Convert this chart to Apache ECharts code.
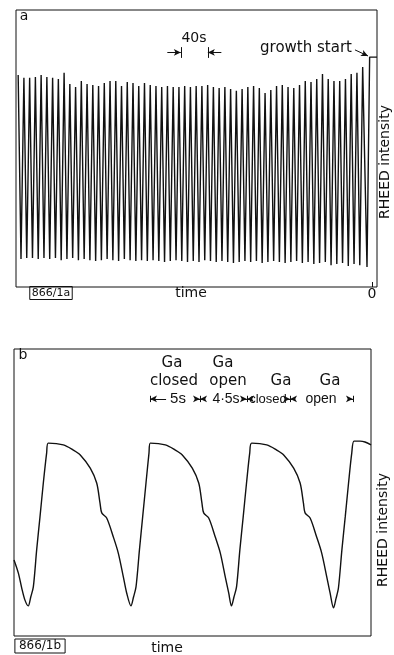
<!DOCTYPE html>
<html>
<head>
<meta charset="utf-8">
<script src="https://cdn.jsdelivr.net/npm/echarts@6/dist/echarts.min.js"></script>
<style>
  html, body { margin: 0; padding: 0; background: #fff; }
  #chart { width: 394px; height: 655px; }
</style>
</head>
<body>
<div id="chart"></div>
<script>
// panel a: RHEED intensity oscillations, time in s after growth start (axis runs right to left)
const preGrowthTimes = [-7.4, 3.5];
const preGrowthValues = [83.0, 83.0];

const peakTimes = [
  13.8, 22.3, 30.8, 39.3, 47.8, 56.3, 64.8, 73.3, 81.8, 90.3,
  98.8, 107.3, 115.8, 124.3, 132.8, 141.3, 149.8, 158.3, 166.8, 175.3,
  183.8, 192.3, 200.8, 209.3, 217.8, 226.3, 234.8, 243.3, 251.8, 260.3,
  268.8, 277.3, 285.8, 294.3, 302.8, 311.3, 319.8, 328.3, 336.8, 345.3,
  353.8, 362.3, 370.8, 379.3, 387.8, 396.3, 404.8, 413.3, 421.8, 430.3,
  438.8, 447.3, 455.8, 464.3, 472.8, 481.3, 489.8, 498.3, 506.8, 515.3,
  523.8
];
const peakValues = [
  79.4, 77.3, 76.9, 75.1, 74.4, 74.4, 75.1, 76.9, 75.1, 74.0,
  74.4, 72.9, 71.8, 72.2, 72.9, 72.6, 71.1, 70.0, 71.8, 72.6,
  72.2, 71.5, 70.8, 71.5, 72.2, 71.8, 72.2, 72.9, 72.6, 72.6,
  72.2, 72.6, 72.2, 72.2, 72.6, 72.2, 72.6, 72.9, 73.6, 72.6,
  73.6, 74.0, 72.6, 74.4, 74.4, 73.6, 72.6, 72.9, 73.3, 74.4,
  72.2, 73.3, 77.3, 75.1, 75.5, 75.8, 76.5, 75.8, 75.5, 75.5,
  76.5
];
const troughTimes = [
  7.4, 18.1, 26.6, 35.1, 43.6, 52.1, 60.6, 69.1, 77.6, 86.1,
  94.6, 103.1, 111.6, 120.1, 128.6, 137.1, 145.6, 154.1, 162.6, 171.1,
  179.6, 188.1, 196.6, 205.1, 213.6, 222.1, 230.6, 239.1, 247.6, 256.1,
  264.6, 273.1, 281.6, 290.1, 298.6, 307.1, 315.6, 324.1, 332.6, 341.1,
  349.6, 358.1, 366.6, 375.1, 383.6, 392.1, 400.6, 409.1, 417.6, 426.1,
  434.6, 443.1, 451.6, 460.1, 468.6, 477.1, 485.6, 494.1, 502.6, 511.1,
  519.6
];
const troughValues = [
  7.2, 7.9, 8.3, 7.6, 8.7, 8.3, 7.9, 9.0, 8.7, 8.3,
  9.0, 8.7, 9.4, 9.0, 8.7, 9.0, 9.4, 9.0, 8.7, 9.4,
  9.0, 9.4, 9.0, 8.7, 9.0, 9.4, 9.0, 9.4, 9.7, 9.0,
  9.4, 9.0, 9.4, 9.7, 9.4, 9.0, 9.4, 9.7, 9.4, 9.7,
  9.4, 9.7, 10.1, 9.4, 9.7, 10.1, 9.7, 9.4, 9.7, 10.1,
  9.7, 10.5, 10.1, 9.7, 10.5, 10.1, 10.5, 10.1, 10.5, 10.5,
  10.1
];
const scaleBarA = [243, 283];          // the "40s" marker
const growthArrow = [[25.2, 85.6], [5.9, 83.4]];

// panel b: one Ga shutter cycle is 5 s closed + 4.5 s open
const timesB = [
  0.00, 0.40, 0.72, 1.02, 1.33, 1.56, 1.80, 2.11, 2.42, 2.73, 3.04, 3.19,
  4.59, 5.52, 6.17, 7.10, 7.70, 8.01, 8.17, 8.63, 9.25, 9.71, 10.18, 10.49, 10.89,
  11.13, 11.36, 11.68, 11.98, 12.29, 12.57, 12.69,
  14.09, 15.02, 15.67, 16.60, 17.20, 17.50, 17.66, 18.13, 18.74, 19.21, 19.67, 19.99, 20.25,
  20.48, 20.72, 21.03, 21.34, 21.65, 21.95, 22.13,
  23.53, 24.46, 25.11, 26.04, 26.64, 26.95, 27.10, 27.57, 28.18, 28.65, 29.12, 29.43, 29.75,
  29.98, 30.21, 30.53, 30.84, 31.15, 31.45, 31.66,
  32.22, 32.68, 33.24
];
const valuesB = [
  26.5, 22.0, 16.7, 12.5, 10.5, 13.6, 17.1, 30.0, 41.5, 53.3, 63.8, 67.2,
  66.6, 64.8, 63.1, 58.5, 53.3, 46.3, 42.9, 41.1, 34.5, 28.9, 20.6, 15.0, 10.5,
  13.6, 17.1, 30.0, 41.5, 53.3, 63.8, 67.2,
  66.6, 64.8, 63.1, 58.5, 53.3, 46.3, 42.9, 41.1, 34.5, 28.9, 20.6, 15.0, 10.5,
  13.6, 17.1, 30.0, 41.5, 53.3, 63.8, 67.2,
  66.6, 64.8, 63.1, 58.5, 53.3, 46.3, 42.9, 41.1, 34.5, 28.9, 20.6, 15.0, 9.8,
  13.0, 16.8, 30.0, 41.5, 53.3, 63.8, 67.9,
  67.9, 67.6, 66.6
];
const shutterBounds = [12.66, 17.32, 21.69, 25.70, 31.56];
const shutterRowY = 82.6;

const ink = '#111';
const font = '"DejaVu Sans", sans-serif';
const narrowFont = '"Liberation Sans", sans-serif';

const traceA = [];
preGrowthTimes.forEach((t, i) => traceA.push([t, preGrowthValues[i]]));
peakTimes.forEach((t, i) => traceA.push([t, peakValues[i]]));
troughTimes.forEach((t, i) => traceA.push([t, troughValues[i]]));
traceA.sort((p, q) => p[0] - q[0]);

const traceB = timesB.map((t, i) => [t, valuesB[i]]);

const tick = (x, y0, y1) => [{ coord: [x, y0], symbol: 'none' }, { coord: [x, y1], symbol: 'none' }];
const arrow = (x0, x1, y) => [{ coord: [x0, y], symbol: 'none' }, { coord: [x1, y], symbol: 'arrow' }];

const marksA = [
  tick(scaleBarA[0], 82.7, 86.6),
  tick(scaleBarA[1], 82.7, 86.6),
  arrow(scaleBarA[1] + 20, scaleBarA[1], 84.7),
  arrow(scaleBarA[0] - 20, scaleBarA[0], 84.7),
  [{ coord: growthArrow[0], symbol: 'none' }, { coord: growthArrow[1], symbol: 'arrow' }]
];

const marksB = [];
shutterBounds.forEach((b, i) => {
  marksB.push(tick(b, shutterRowY - 1.1, shutterRowY + 1.1));
  if (i === 0) {
    marksB.push(arrow(b + 1.5, b, shutterRowY));
  } else if (i === shutterBounds.length - 1) {
    marksB.push(arrow(b - 0.45, b, shutterRowY));
  } else {
    marksB.push(arrow(b - 0.45, b, shutterRowY));
    marksB.push(arrow(b + 0.45, b, shutterRowY));
  }
});

const markStyle = {
  silent: true,
  animation: false,
  symbolSize: [5, 7],
  label: { show: false },
  lineStyle: { color: ink, width: 1, type: 'solid' },
  emphasis: { disabled: true }
};

const txt = (text, x, y, size, extra, family) => ({
  type: 'text', x: x, y: y,
  style: Object.assign({
    text: text, fill: ink, font: size + 'px ' + (family || font),
    align: 'center', verticalAlign: 'middle'
  }, extra || {})
});

const chart = echarts.init(document.getElementById('chart'), null, { renderer: 'canvas' });

chart.setOption({
  animation: false,
  backgroundColor: '#fff',
  grid: [
    { left: 16, top: 10, width: 361, height: 277, show: true, borderColor: ink, borderWidth: 1 },
    { left: 14, top: 349, width: 357, height: 287, show: true, borderColor: ink, borderWidth: 1 }
  ],
  xAxis: [
    {
      gridIndex: 0, type: 'value', min: -7.4, max: 527, inverse: true,
      axisLine: { show: false }, splitLine: { show: false },
      axisTick: { show: true, inside: true, length: 5, customValues: [0], lineStyle: { color: ink } },
      axisLabel: { show: true, customValues: [0], margin: 0, color: ink, fontSize: 14, fontFamily: font }
    },
    {
      gridIndex: 1, type: 'value', min: 0, max: 33.24,
      axisLine: { show: false }, splitLine: { show: false },
      axisTick: { show: false }, axisLabel: { show: false }
    }
  ],
  yAxis: [
    { gridIndex: 0, type: 'value', min: 0, max: 100, show: false },
    { gridIndex: 1, type: 'value', min: 0, max: 100, show: false }
  ],
  series: [
    {
      type: 'line', xAxisIndex: 0, yAxisIndex: 0, data: traceA,
      showSymbol: false, silent: true,
      lineStyle: { color: ink, width: 1.4 },
      markLine: Object.assign({ data: marksA }, markStyle)
    },
    {
      type: 'line', xAxisIndex: 1, yAxisIndex: 1, data: traceB,
      showSymbol: false, silent: true, smooth: 0.3,
      lineStyle: { color: ink, width: 1.4 },
      markLine: Object.assign({ data: marksB }, markStyle)
    }
  ],
  graphic: [
    txt('a', 24, 16, 14, { fontStyle: 'italic' }),
    txt('40s', 194, 38, 14),
    txt('growth start', 306, 48, 15),
    txt('866/1a', 51, 293, 11, { borderColor: ink, borderWidth: 1, padding: [1, 2] }),
    txt('time', 191, 293, 14),
    Object.assign(txt('RHEED intensity', 385, 162, 14), { rotation: Math.PI / 2 }),

    txt('b', 23, 355, 14, { fontStyle: 'italic' }),
    txt('Ga', 172, 363, 15),
    txt('Ga', 223, 363, 15),
    txt('closed', 174, 381, 15),
    txt('open', 228, 381, 15),
    txt('Ga', 281, 381, 15),
    txt('Ga', 330, 381, 15),
    txt('5s', 178, 399, 15, null, narrowFont),
    txt('4·5s', 226, 399, 14, null, narrowFont),
    txt('closed', 268, 399, 13, null, narrowFont),
    txt('open', 321, 399, 14, null, narrowFont),
    txt('866/1b', 40, 646, 12, { borderColor: ink, borderWidth: 1, padding: [1, 4] }),
    txt('time', 167, 648, 14),
    Object.assign(txt('RHEED intensity', 383, 530, 14), { rotation: Math.PI / 2 })
  ]
});
</script>
</body>
</html>
